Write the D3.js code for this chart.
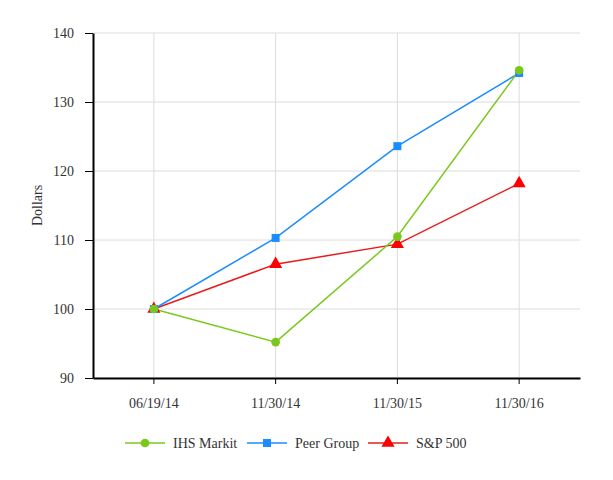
<!DOCTYPE html>
<meta charset="utf-8">
<head>
<script src="https://d3js.org/d3.v7.min.js"></script>
<style>
  body { margin: 0; background: #fff; }
  text { font-family: "Liberation Serif", "Times New Roman", serif; }
</style>
</head>
<body>
<div id="my_dataviz"></div>
<script>

    // data
    var dates = ["06/19/14", "11/30/14", "11/30/15", "11/30/16"];
    var ihsMarkit = [100, 95.2, 110.5, 134.6];
    var peerGroup = [100, 110.3, 123.6, 134.2];
    var sp500 = [100, 106.5, 109.4, 118.2];
    var yTicks = [90, 100, 110, 120, 130, 140];

    var series = [
      {name: "IHS Markit", values: ihsMarkit, color: "#7ac81e", symbol: d3.symbolCircle, size: 60},
      {name: "Peer Group", values: peerGroup, color: "#1a8cff", symbol: d3.symbolSquare, size: 64},
      {name: "S&P 500", values: sp500, color: "#e81c1c", mark: "#ff0000", symbol: d3.symbolTriangle, size: 75}
    ];

    var fontSize = "14px",
        textColor = "#333";

    // set the dimensions and margins of the graph
    var margin = {top: 33, right: 33, bottom: 102, left: 93},
        width = 613 - margin.left - margin.right,
        height = 480 - margin.top - margin.bottom;

    var svg = d3.select("#my_dataviz")
      .append("svg")
        .attr("width", 613)
        .attr("height", 480)
      .append("g")
        .attr("transform", "translate(" + margin.left + "," + margin.top + ")");

    var x = d3.scaleBand()
      .domain(dates)
      .range([0, width]);

    var y = d3.scaleLinear()
      .domain([90, 140])
      .range([height, 0]);

    // grid
    svg.append("g")
      .selectAll("line.h")
      .data(yTicks)
      .enter()
      .append("line")
        .attr("x1", 0)
        .attr("x2", width)
        .attr("y1", function(d) { return y(d); })
        .attr("y2", function(d) { return y(d); })
        .style("stroke", "#dcdcdc")
        .style("stroke-width", 1);

    svg.append("g")
      .selectAll("line.v")
      .data(dates)
      .enter()
      .append("line")
        .attr("x1", function(d) { return x(d) + x.bandwidth() / 2; })
        .attr("x2", function(d) { return x(d) + x.bandwidth() / 2; })
        .attr("y1", 0)
        .attr("y2", height)
        .style("stroke", "#dcdcdc")
        .style("stroke-width", 1);

    // X axis
    var xAxis = svg.append("g")
      .attr("transform", "translate(0," + height + ")")
      .call(d3.axisBottom(x).tickSize(6).tickPadding(14).tickSizeOuter(0));
    xAxis.select(".domain").style("stroke", "#000").style("stroke-width", 2);
    xAxis.selectAll("text").style("font-size", fontSize).style("fill", textColor)
      .style("font-family", "'Liberation Serif', serif");

    // Y axis
    var yAxis = svg.append("g")
      .call(d3.axisLeft(y).tickValues(yTicks).tickSize(8).tickPadding(11).tickSizeOuter(0));
    yAxis.select(".domain").style("stroke", "#000").style("stroke-width", 2);
    yAxis.selectAll("text").style("font-size", fontSize).style("fill", textColor)
      .style("font-family", "'Liberation Serif', serif");

    // Y label
    svg.append("text")
      .attr("transform", "translate(-51," + (height / 2) + ")rotate(-90)")
      .attr("text-anchor", "middle")
      .style("font-size", fontSize)
      .style("fill", textColor)
      .text("Dollars");

    // lines
    var line = d3.line()
      .x(function(d, i) { return x(dates[i]) + x.bandwidth() / 2; })
      .y(function(d) { return y(d); });

    // draw in reverse so IHS Markit sits on top
    var order = [series[2], series[1], series[0]];
    order.forEach(function(s) {
      svg.append("path")
        .datum(s.values)
        .attr("d", line)
        .style("fill", "none")
        .style("stroke", s.color)
        .style("stroke-width", 1.5);
    });
    order.forEach(function(s) {
      svg.append("g")
        .selectAll("path")
        .data(s.values)
        .enter()
        .append("path")
          .attr("d", d3.symbol().type(s.symbol).size(s.size))
          .attr("transform", function(d, i) {
            return "translate(" + (x(dates[i]) + x.bandwidth() / 2) + "," + y(d) + ")";
          })
          .style("fill", s.mark || s.color);
    });

    // legend
    var legendX = [125, 247, 368];
    var legend = d3.select("svg").append("g")
      .attr("transform", "translate(0,443)");
    series.forEach(function(s, i) {
      var g = legend.append("g").attr("transform", "translate(" + legendX[i] + ",0)");
      g.append("line")
        .attr("x1", 0).attr("x2", 40).attr("y1", 0).attr("y2", 0)
        .style("stroke", s.color).style("stroke-width", 1.5);
      g.append("path")
        .attr("d", d3.symbol().type(s.symbol).size(s.size))
        .attr("transform", "translate(20,0)")
        .style("fill", s.mark || s.color);
      g.append("text")
        .attr("x", 48)
        .attr("y", 5)
        .style("font-size", fontSize)
        .style("fill", textColor)
        .text(s.name);
    });

</script>
</body>
</html>
